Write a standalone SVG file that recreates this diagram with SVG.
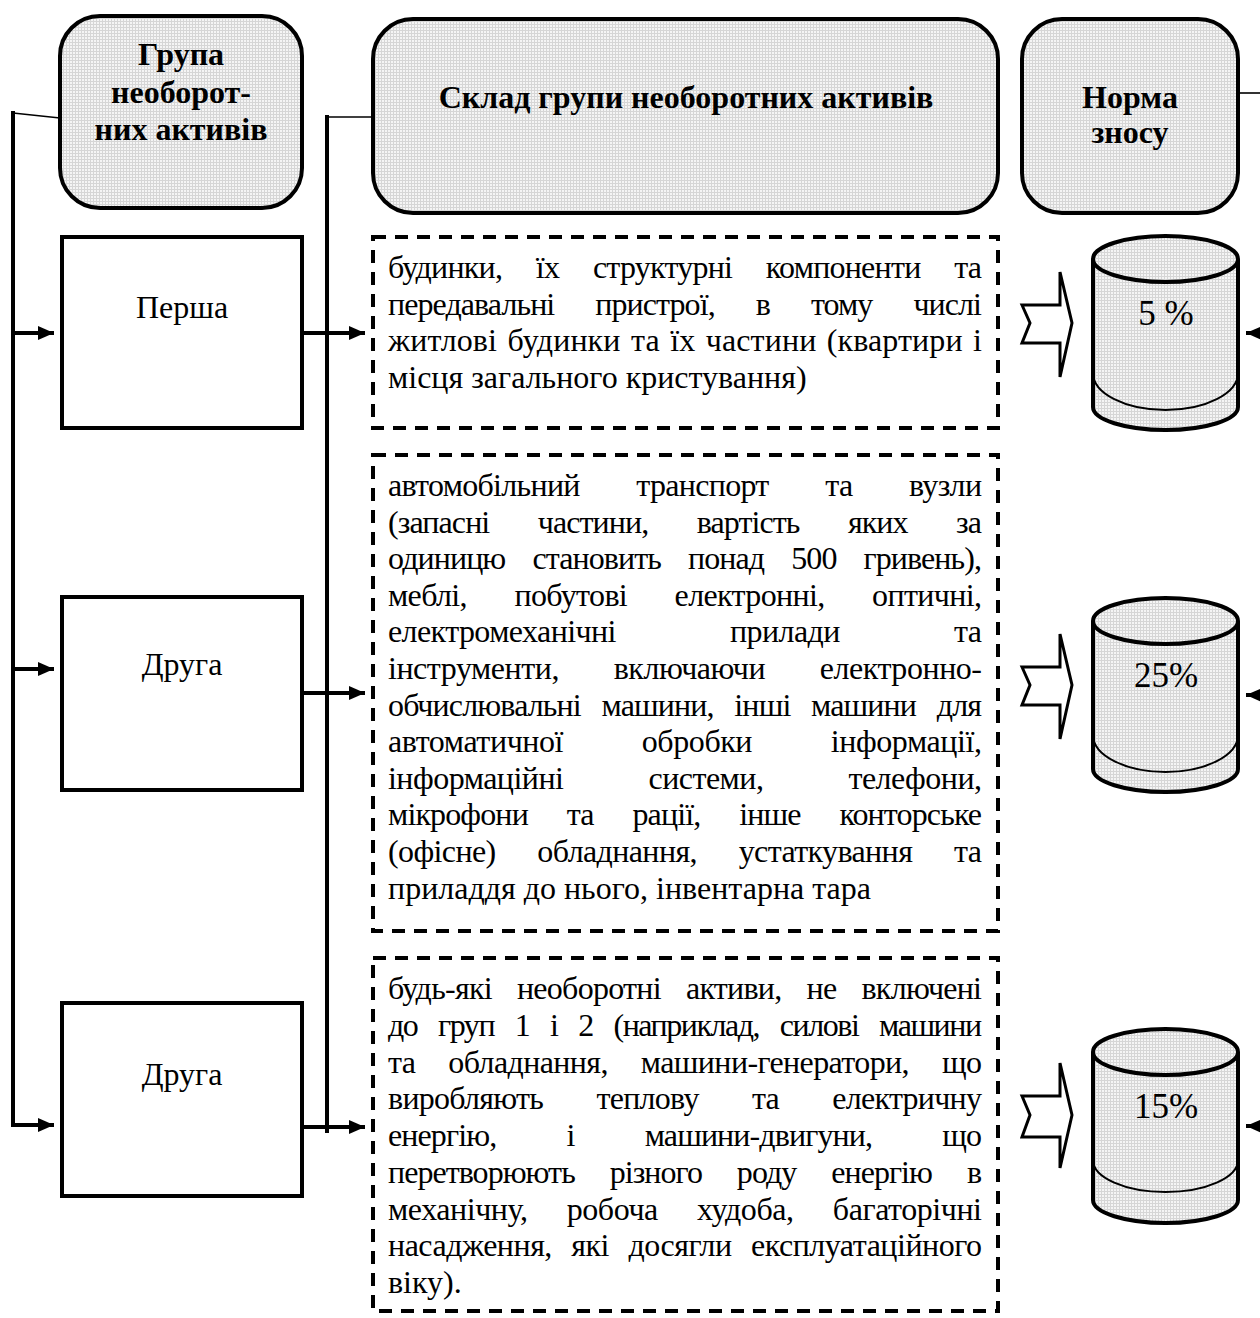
<svg xmlns="http://www.w3.org/2000/svg" width="1260" height="1318" viewBox="0 0 1260 1318">
  <defs>
    <!-- fine grey grid used as fill for header boxes and cylinders -->
    <pattern id="grid" width="3" height="3" patternUnits="userSpaceOnUse">
      <rect width="3" height="3" fill="#f5f5f5"/>
      <path d="M0 0.5H3M0.5 0V3" stroke="#d6d6d6" stroke-width="1"/>
    </pattern>
    <marker id="ah" viewBox="0 0 16 14" refX="16" refY="7" markerWidth="16" markerHeight="14" markerUnits="userSpaceOnUse" orient="auto">
      <path d="M0 0L16 7L0 14Z" fill="#000"/>
    </marker>
    <style>
      text { font-family: "Liberation Serif", "Times New Roman", serif; fill: #000; }
      .hdr { font-size: 32px; font-weight: bold; text-anchor: middle; }
      .lbl { font-size: 32px; text-anchor: middle; }
      .pct { font-size: 35px; text-anchor: middle; }
      .body { font-size: 32px; }
      .head { fill: url(#grid); stroke: #000; stroke-width: 4; }
      .grp { fill: #fff; stroke: #000; stroke-width: 4; }
      .dash { fill: #fff; stroke: #000; stroke-width: 4; stroke-dasharray: 13 9; }
      .wire { fill: none; stroke: #000; stroke-width: 4; }
      .thin { fill: none; stroke: #000; stroke-width: 1.6; }
      .cyl { fill: url(#grid); stroke: #000; stroke-width: 4; }
      .cylin { fill: none; stroke: #000; stroke-width: 2; }
      .chev { fill: #fff; stroke: #000; stroke-width: 3; stroke-linejoin: miter; }
    </style>
  </defs>

  <!-- column headers -->
  <g id="hdr-group">
    <rect class="head" x="60" y="16" width="242" height="192" rx="40"/>
    <text class="hdr" x="181" y="65">Група</text>
    <text class="hdr" x="181" y="103">необорот-</text>
    <text class="hdr" x="181" y="140">них активів</text>
  </g>
  <g id="hdr-content">
    <rect class="head" x="373" y="19" width="625" height="194" rx="40"/>
    <text class="hdr" x="686" y="108">Склад групи необоротних активів</text>
  </g>
  <g id="hdr-rate">
    <rect class="head" x="1022" y="19" width="216" height="194" rx="40"/>
    <text class="hdr" x="1130" y="108">Норма</text>
    <text class="hdr" x="1130" y="143">зносу</text>
  </g>

  <!-- group boxes -->
  <g id="grp-1">
    <rect class="grp" x="62" y="237" width="240" height="191"/>
    <text class="lbl" x="182" y="318">Перша</text>
  </g>
  <g id="grp-2">
    <rect class="grp" x="62" y="597" width="240" height="193"/>
    <text class="lbl" x="182" y="675">Друга</text>
  </g>
  <g id="grp-3">
    <rect class="grp" x="62" y="1003" width="240" height="193"/>
    <text class="lbl" x="182" y="1085">Друга</text>
  </g>

  <!-- content boxes; justified lines are stretched to the column width -->
  <g id="content-1">
    <rect class="dash" x="373" y="237" width="625" height="191"/>
    <text class="body" x="388" y="278" word-spacing="26.4" textLength="594" lengthAdjust="spacing">будинки, їх структурні компоненти та</text>
    <text class="body" x="388" y="314.7" word-spacing="33.9" textLength="594" lengthAdjust="spacing">передавальні пристрої, в тому числі</text>
    <text class="body" x="388" y="351.4" word-spacing="2.4" textLength="594" lengthAdjust="spacing">житлові будинки та їх частини (квартири і</text>
    <text class="body" x="388" y="388">місця загального кристування)</text>
  </g>
  <g id="content-2">
    <rect class="dash" x="373" y="455" width="625" height="476"/>
    <text class="body" x="388" y="496" word-spacing="49.3" textLength="594" lengthAdjust="spacing">автомобільний транспорт та вузли</text>
    <text class="body" x="388" y="532.6" word-spacing="41.3" textLength="594" lengthAdjust="spacing">(запасні частини, вартість яких за</text>
    <text class="body" x="388" y="569.2" word-spacing="20" textLength="594" lengthAdjust="spacing">одиницю становить понад 500 гривень),</text>
    <text class="body" x="388" y="605.8" word-spacing="40.1" textLength="594" lengthAdjust="spacing">меблі, побутові електронні, оптичні,</text>
    <text class="body" x="388" y="642.4" word-spacing="106.8" textLength="594" lengthAdjust="spacing">електромеханічні прилади та</text>
    <text class="body" x="388" y="679" word-spacing="47.1" textLength="594" lengthAdjust="spacing">інструменти, включаючи електронно-</text>
    <text class="body" x="388" y="715.6" word-spacing="13.5" textLength="594" lengthAdjust="spacing">обчислювальні машини, інші машини для</text>
    <text class="body" x="388" y="752.2" word-spacing="71.1" textLength="594" lengthAdjust="spacing">автоматичної обробки інформації,</text>
    <text class="body" x="388" y="788.8" word-spacing="77.6" textLength="594" lengthAdjust="spacing">інформаційні системи, телефони,</text>
    <text class="body" x="388" y="825.4" word-spacing="31.7" textLength="594" lengthAdjust="spacing">мікрофони та рації, інше конторське</text>
    <text class="body" x="388" y="862" word-spacing="34.4" textLength="594" lengthAdjust="spacing">(офісне) обладнання, устаткування та</text>
    <text class="body" x="388" y="898.6">приладдя до нього, інвентарна тара</text>
  </g>
  <g id="content-3">
    <rect class="dash" x="373" y="958" width="625" height="353"/>
    <text class="body" x="388" y="999" word-spacing="17.8" textLength="594" lengthAdjust="spacing">будь-які необоротні активи, не включені</text>
    <text class="body" x="388" y="1035.8" word-spacing="14.2" textLength="594" lengthAdjust="spacing">до груп 1 і 2 (наприклад, силові машини</text>
    <text class="body" x="388" y="1072.5" word-spacing="25.6" textLength="594" lengthAdjust="spacing">та обладнання, машини-генератори, що</text>
    <text class="body" x="388" y="1109.3" word-spacing="46" textLength="594" lengthAdjust="spacing">виробляють теплову та електричну</text>
    <text class="body" x="388" y="1146" word-spacing="63.1" textLength="594" lengthAdjust="spacing">енергію, і машини-двигуни, що</text>
    <text class="body" x="388" y="1182.8" word-spacing="27.9" textLength="594" lengthAdjust="spacing">перетворюють різного роду енергію в</text>
    <text class="body" x="388" y="1219.5" word-spacing="31.7" textLength="594" lengthAdjust="spacing">механічну, робоча худоба, багаторічні</text>
    <text class="body" x="388" y="1256.3" word-spacing="11.9" textLength="594" lengthAdjust="spacing">насадження, які досягли експлуатаційного</text>
    <text class="body" x="388" y="1293">віку).</text>
  </g>

  <!-- depreciation rate cylinders with block arrows -->
  <g id="rate-1">
    <polygon class="chev" points="1022,305 1030,323 1022,343 1060,343 1060,377 1072,323 1060,272 1060,305"/>
    <path class="cyl" d="M1093 259V407A72.5 23 0 0 0 1238 407V259"/>
    <ellipse class="cyl" cx="1165.5" cy="259" rx="72.5" ry="23"/>
    <path class="cylin" d="M1093 373A72.5 37 0 0 0 1238 373"/>
    <text class="pct" x="1166" y="325">5 %</text>
  </g>
  <g id="rate-2">
    <polygon class="chev" points="1022,667 1030,685 1022,705 1060,705 1060,739 1072,685 1060,634 1060,667"/>
    <path class="cyl" d="M1093 621V769A72.5 23 0 0 0 1238 769V621"/>
    <ellipse class="cyl" cx="1165.5" cy="621" rx="72.5" ry="23"/>
    <path class="cylin" d="M1093 735A72.5 37 0 0 0 1238 735"/>
    <text class="pct" x="1166" y="687">25%</text>
  </g>
  <g id="rate-3">
    <polygon class="chev" points="1022,1096 1030,1115 1022,1137 1060,1137 1060,1168 1072,1115 1060,1063 1060,1096"/>
    <path class="cyl" d="M1093 1052V1200A72.5 23 0 0 0 1238 1200V1052"/>
    <ellipse class="cyl" cx="1165.5" cy="1052" rx="72.5" ry="23"/>
    <path class="cylin" d="M1093 1160A72.5 32 0 0 0 1238 1160"/>
    <text class="pct" x="1166" y="1118">15%</text>
  </g>

  <!-- connectors -->
  <g id="connectors">
    <line class="thin" x1="13" y1="113" x2="60" y2="118"/>
    <line class="wire" x1="13" y1="111" x2="13" y2="1127"/>
    <line class="wire" x1="13" y1="333" x2="54" y2="333" marker-end="url(#ah)"/>
    <line class="wire" x1="13" y1="669" x2="54" y2="669" marker-end="url(#ah)"/>
    <line class="wire" x1="15" y1="1125" x2="54" y2="1125" marker-end="url(#ah)"/>

    <line class="thin" x1="327" y1="117" x2="373" y2="117"/>
    <line class="wire" x1="327" y1="115" x2="327" y2="1133"/>
    <line class="wire" x1="302" y1="333" x2="365" y2="333" marker-end="url(#ah)"/>
    <line class="wire" x1="302" y1="693" x2="365" y2="693" marker-end="url(#ah)"/>
    <line class="wire" x1="302" y1="1127" x2="365" y2="1127" marker-end="url(#ah)"/>

    <line class="thin" x1="1238" y1="93" x2="1260" y2="93"/>
    <line class="wire" x1="1262" y1="333" x2="1246" y2="333" marker-end="url(#ah)"/>
    <line class="wire" x1="1262" y1="695" x2="1246" y2="695" marker-end="url(#ah)"/>
    <line class="wire" x1="1262" y1="1126" x2="1246" y2="1126" marker-end="url(#ah)"/>
  </g>
</svg>
